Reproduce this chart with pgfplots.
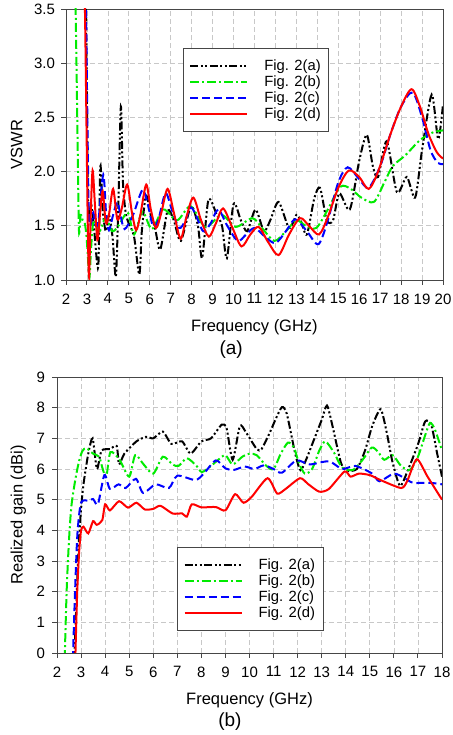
\documentclass[border=0pt]{standalone}
\usepackage{fontspec}
\setmainfont{Liberation Sans}
\usepackage{pgfplots}
\pgfplotsset{compat=1.18}

\definecolor{gridgray}{RGB}{200,200,200}
\definecolor{framegray}{RGB}{70,70,70}
\definecolor{cgreen}{RGB}{0,235,0}

\pgfplotsset{
  antplot/.style={
    scale only axis,
    clip mode=individual,
    grid=major,
    grid style={draw=gridgray, line width=0.7pt, dash pattern=on 5pt off 3pt},
    axis line style={draw=framegray, line width=0.9pt},
    tick style={draw=framegray, line width=0.9pt},
    tick align=outside, tick pos=left, major tick length=5pt,
    ticklabel style={font=\fontsize{15}{15}\selectfont},
    label style={font=\fontsize{16.5}{17}\selectfont},
    /pgf/number format/assume math mode=true,
    xticklabel style={yshift=-5pt},
    legend cell align=left,
    legend image code/.code={\draw[#1] (0pt,0pt) -- (57pt,0pt);},
    legend style={draw=framegray, line width=0.8pt,
      font=\fontsize{14.8}{15}\selectfont,
      inner xsep=6pt, inner ysep=9pt,
      /tikz/every odd column/.append style={column sep=14pt}},
  },
  figA/.style={black, line width=2pt, dash pattern=on 8pt off 2.5pt on 2pt off 2.5pt on 2pt off 2.5pt},
  figB/.style={cgreen, line width=2pt, dash pattern=on 9pt off 3pt on 2pt off 3pt},
  figC/.style={blue, line width=2pt, dash pattern=on 8pt off 4pt},
  figD/.style={red, line width=2pt},
}

\begin{document}
\begin{tikzpicture}[x=1pt,y=1pt]
\path[use as bounding box] (0,0) rectangle (452,735);

% ---------- (a) VSWR ----------
\begin{axis}[antplot,
  at={(66pt,455pt)}, anchor=south west,
  width=377pt, height=271pt,
  xmin=2, xmax=20, ymin=1, ymax=3.5,
  xtick={2,3,...,20}, ytick={1,1.5,...,3.5},
  yticklabel style={/pgf/number format/fixed, /pgf/number format/fixed zerofill, /pgf/number format/precision=1, xshift=-2.5pt},
  xlabel={Frequency (GHz)}, ylabel={VSWR},
  xlabel style={at={(axis description cs:0.5,-0.173)}, anchor=center},
  ylabel style={at={(axis description cs:-0.131,0.5)}, anchor=center},
  legend style={at={(0.31,0.856)}, anchor=north west},
]
\addplot[figA, smooth, tension=0.45] coordinates {
(2.92,4.0) (2.98,3.0) (3.03,2.0) (3.08,1.55) (3.2,1.7) (3.35,1.45) (3.54,1.12) (3.64,2.05)
(3.75,1.65) (3.9,1.45) (4.05,1.6) (4.22,1.4) (4.38,1.03) (4.5,1.7) (4.62,2.6) (4.72,1.9)
(4.85,1.62) (5.0,1.52) (5.25,1.4) (5.5,1.05) (5.62,1.45) (5.82,1.78) (6.05,1.6) (6.25,1.48)
(6.5,1.28) (6.85,1.64) (7.15,1.55) (7.48,1.36) (7.97,1.68) (8.3,1.5) (8.5,1.2) (8.8,1.74)
(9.2,1.6) (9.45,1.5) (9.68,1.2) (10.0,1.7) (10.35,1.55) (10.65,1.45) (11.05,1.65) (11.45,1.45)
(11.75,1.55) (12.15,1.72) (12.65,1.48) (13.0,1.6) (13.2,1.55) (13.5,1.42) (13.85,1.75) (14.13,1.85)
(14.45,1.55) (14.75,1.55) (15.05,1.8) (15.55,1.65) (16.0,2.1) (16.36,2.34) (16.65,2.05) (16.9,1.95)
(17.31,2.28) (17.8,1.81) (18.27,1.95) (18.67,1.76) (19.0,2.2) (19.46,2.71) (19.77,2.3) (20,2.62)
};
\addlegendentry{Fig. 2(a)}
\addplot[figB, smooth, tension=0.5] coordinates {
(2.42,4.0) (2.5,3.0) (2.56,2.2) (2.62,1.45) (2.7,1.6) (2.8,1.55) (2.9,1.52) (2.98,1.4)
(3.05,1.2) (3.12,1.02) (3.2,1.3) (3.32,1.55) (3.6,1.45) (3.9,1.58) (4.2,1.45) (4.5,1.5)
(4.95,1.62) (5.25,1.42) (5.65,1.63) (6.1,1.47) (6.65,1.65) (7.3,1.55) (7.95,1.68) (8.65,1.49)
(9.43,1.6) (10.1,1.49) (10.9,1.57) (11.4,1.47) (11.95,1.36) (12.5,1.45) (13.0,1.55) (13.45,1.5)
(13.95,1.48) (14.5,1.65) (15.1,1.86) (15.6,1.84) (16.1,1.76) (16.7,1.72) (17.2,1.9) (17.6,2.05)
(18.2,2.15) (18.9,2.29) (19.5,2.36) (20,2.38)
};
\addlegendentry{Fig. 2(b)}
\addplot[figC, smooth, tension=0.5] coordinates {
(2.95,3.6) (3.02,2.5) (3.08,1.7) (3.15,1.5) (3.3,1.62) (3.42,1.5) (3.55,1.55) (3.78,1.97)
(3.92,1.6) (4.05,1.46) (4.25,1.6) (4.45,1.72) (4.6,1.6) (4.8,1.47) (5.2,1.6) (5.65,1.83)
(5.9,1.7) (6.15,1.5) (6.4,1.55) (6.75,1.8) (7.05,1.65) (7.4,1.48) (7.7,1.55) (7.95,1.67)
(8.2,1.6) (8.55,1.45) (8.9,1.52) (9.27,1.65) (9.7,1.5) (10.2,1.36) (10.6,1.42) (11.0,1.48)
(11.5,1.4) (12.0,1.34) (12.5,1.45) (12.95,1.56) (13.5,1.45) (14.05,1.33) (14.5,1.55) (15.0,1.9)
(15.45,2.04) (16.0,1.93) (16.45,1.85) (17.0,2.05) (17.5,2.35) (18.0,2.6) (18.55,2.73) (19.0,2.5)
(19.4,2.2) (19.75,2.08) (20,2.07)
};
\addlegendentry{Fig. 2(c)}
\addplot[figD, smooth, tension=0.5] coordinates {
(2.86,4.0) (2.92,3.3) (2.98,2.4) (3.04,1.5) (3.10,1.03) (3.18,1.6) (3.27,2.01) (3.38,1.7)
(3.50,1.37) (3.62,1.6) (3.75,1.82) (3.90,1.53) (4.05,1.6) (4.25,1.84) (4.45,1.56) (4.65,1.65)
(4.92,1.88) (5.15,1.62) (5.35,1.46) (5.55,1.6) (5.83,1.88) (6.05,1.65) (6.3,1.48) (6.55,1.62)
(6.85,1.84) (7.15,1.62) (7.47,1.38) (7.75,1.58) (8.08,1.76) (8.45,1.55) (8.82,1.40) (9.15,1.52)
(9.5,1.66) (9.95,1.48) (10.38,1.31) (10.8,1.42) (11.2,1.49) (11.65,1.35) (12.15,1.23) (12.65,1.42)
(13.17,1.57) (13.6,1.5) (14.08,1.42) (14.5,1.58) (15.0,1.85) (15.5,2.01) (16.0,1.95) (16.45,1.84)
(16.9,2.0) (17.5,2.35) (18.0,2.6) (18.5,2.76) (18.9,2.6) (19.3,2.35) (19.7,2.18) (20,2.12)
};
\addlegendentry{Fig. 2(d)}
\node[font=\fontsize{19}{19}\selectfont] at (axis description cs:0.438,-0.258) {(a)};
\end{axis}

% ---------- (b) Realized gain ----------
\begin{axis}[antplot,
  at={(57pt,82pt)}, anchor=south west,
  width=385pt, height=276pt,
  xmin=2, xmax=18, ymin=0, ymax=9,
  xtick={2,3,...,18}, ytick={0,1,...,9},
  yticklabel style={xshift=-3.5pt},
  xlabel={Frequency (GHz)}, ylabel={Realized gain (dBi)},
  xlabel style={at={(axis description cs:0.5,-0.170)}, anchor=center},
  ylabel style={at={(axis description cs:-0.1005,0.5)}, anchor=center},
  legend style={at={(0.312,0.384)}, anchor=north west},
]
\addplot[figA, smooth, tension=0.4] coordinates {
(2.72,-0.2) (2.8,1.5) (2.9,3.5) (3.0,4.7) (3.1,5.5) (3.3,6.5) (3.48,7.0) (3.66,6.0)
(3.85,6.6) (4.2,6.65) (4.48,6.75) (4.58,6.15) (4.8,6.5) (5.3,6.9) (5.7,7.05) (6.0,7.0)
(6.4,7.22) (6.75,6.82) (7.2,6.9) (7.55,6.5) (8.0,6.9) (8.4,7.0) (8.85,7.45) (9.05,7.32)
(9.3,6.3) (9.6,7.4) (9.85,7.2) (10.3,6.65) (10.5,6.65) (10.85,7.2) (11.1,7.65) (11.35,8.02)
(11.55,7.8) (11.9,6.5) (12.12,5.96) (12.35,6.3) (12.75,7.1) (13.0,7.6) (13.22,8.07) (13.45,7.4)
(13.8,6.2) (14.05,5.95) (14.46,6.0) (14.8,6.6) (15.1,7.4) (15.45,7.95) (15.7,7.2) (15.95,6.2)
(16.26,5.45) (16.6,6.0) (17.0,6.8) (17.3,7.55) (17.55,7.45) (17.8,6.5) (18.0,5.75)
};
\addlegendentry{Fig. 2(a)}
\addplot[figB, smooth, tension=0.45] coordinates {
(2.32,-0.2) (2.4,2.0) (2.5,3.7) (2.6,4.8) (2.75,5.6) (2.9,6.2) (3.05,6.58) (3.22,6.68)
(3.5,6.5) (3.75,6.4) (3.9,6.0) (4.05,5.75) (4.22,6.55) (4.6,6.3) (5.0,5.75) (5.25,6.45)
(5.6,6.15) (6.0,5.85) (6.4,6.4) (6.8,6.15) (7.05,6.1) (7.4,6.35) (7.8,6.1) (8.02,5.9)
(8.4,6.1) (8.7,6.3) (9.0,6.45) (9.3,6.15) (9.7,6.4) (10.0,6.5) (10.3,6.45) (10.7,6.1)
(11.0,6.0) (11.3,6.5) (11.6,6.86) (11.85,6.7) (12.05,6.2) (12.3,5.85) (12.6,6.0) (12.9,6.6)
(13.15,6.9) (13.5,6.55) (13.85,6.05) (14.3,5.97) (14.7,6.3) (15.08,6.7) (15.35,6.55) (15.6,6.3)
(15.95,6.45) (16.3,6.1) (16.67,5.97) (17.0,6.4) (17.3,7.1) (17.5,7.5) (17.7,7.3) (18.0,6.6)
};
\addlegendentry{Fig. 2(b)}
\addplot[figC, smooth, tension=0.45] coordinates {
(2.66,-0.2) (2.75,2.0) (2.85,3.9) (3.0,4.9) (3.3,4.97) (3.5,5.02) (3.7,4.85) (3.97,5.8)
(4.2,5.35) (4.56,5.5) (4.85,5.38) (5.28,5.68) (5.58,5.22) (6.1,5.5) (6.65,5.38) (7.0,5.78)
(7.75,5.64) (8.1,5.85) (8.6,6.28) (9.0,6.02) (9.35,5.97) (9.8,6.08) (10.2,6.0) (10.6,6.12)
(11.0,6.0) (11.35,5.88) (11.95,6.28) (12.5,6.15) (13.3,6.25) (13.85,6.0) (14.4,6.1) (15.1,5.85)
(15.4,5.6) (16.0,5.85) (16.45,5.7) (16.8,5.55) (17.5,5.55) (18.0,5.5)
};
\addlegendentry{Fig. 2(c)}
\addplot[figD, smooth, tension=0.4] coordinates {
(2.76,-0.2) (2.84,2.0) (2.92,3.3) (3.0,4.0) (3.1,4.12) (3.3,3.9) (3.5,4.3) (3.65,4.18)
(3.88,4.33) (4.0,4.85) (4.2,4.65) (4.58,4.95) (4.95,4.74) (5.3,4.9) (5.65,4.68) (6.0,4.7)
(6.3,4.8) (6.8,4.55) (7.2,4.55) (7.4,4.45) (7.6,4.85) (8.0,4.75) (8.6,4.76) (9.0,4.65)
(9.4,5.18) (9.75,4.9) (10.1,5.1) (10.75,5.7) (11.15,5.2) (11.5,5.35) (12.1,5.7) (12.45,5.5)
(12.9,5.26) (13.3,5.35) (13.95,5.92) (14.2,5.75) (14.55,5.85) (15.0,5.8) (15.5,5.62) (16.3,5.38)
(16.55,5.6) (16.95,6.32) (17.4,5.75) (18.0,5.0)
};
\addlegendentry{Fig. 2(d)}
\node[font=\fontsize{19}{19}\selectfont] at (axis description cs:0.449,-0.249) {(b)};
\end{axis}
\end{tikzpicture}
\end{document}
